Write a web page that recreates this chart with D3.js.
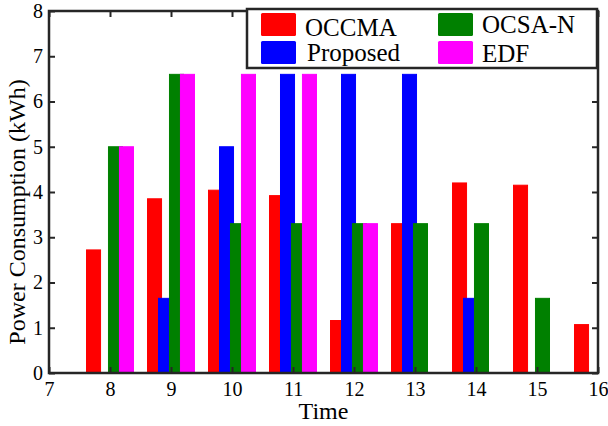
<!DOCTYPE html>
<html>
<head>
<meta charset="utf-8">
<script src="https://cdn.jsdelivr.net/npm/d3@7"></script>
<style>
  body { margin: 0; background: #fff; }
  text { font-family: "Liberation Serif", "Times New Roman", serif; fill: #000; }
</style>
</head>
<body>
<div id="chart"></div>
<script>
// time slots on the x-axis
var times = [7, 8, 9, 10, 11, 12, 13, 14, 15, 16]

// power consumption (kWh) per time slot
var occma    = [0, 2.72, 3.85, 4.04, 3.92, 1.16, 3.3, 4.2, 4.15, 1.07]
var proposed = [0, 0, 1.65, 5, 6.6, 6.6, 6.6, 1.65, 0, 0]
var ocsaN    = [0, 5, 6.6, 3.3, 3.3, 3.3, 3.3, 3.3, 1.65, 0]
var edf      = [0, 5, 6.6, 6.6, 6.6, 3.3, 0, 0, 0, 0]

var seriesNames = ["OCCMA", "Proposed", "OCSA-N", "EDF"]
var seriesColors = ["#ff0000", "#0000ff", "#008000", "#ff00ff"]
var seriesValues = [occma, proposed, ocsaN, edf]

var xTicks = [7, 8, 9, 10, 11, 12, 13, 14, 15, 16]
var yTicks = [0, 1, 2, 3, 4, 5, 6, 7, 8]

var dimensions = {
    width: 608,
    height: 426,
    margin: { top: 11, right: 10, bottom: 53, left: 49 }
}
var innerW = dimensions.width - dimensions.margin.left - dimensions.margin.right
var innerH = dimensions.height - dimensions.margin.top - dimensions.margin.bottom

var svg = d3.select("#chart")
    .append("svg")
    .attr("width", dimensions.width)
    .attr("height", dimensions.height)

var g = svg.append("g")
    .attr("transform", "translate(" + dimensions.margin.left + "," + dimensions.margin.top + ")")

var x = d3.scaleLinear().domain([7, 16]).range([0, innerW])
var y = d3.scaleLinear().domain([0, 8]).range([innerH, 0])

// offsets of the 4 bars inside a group (in time units), and bar width
var offsets = [-0.27, -0.09, 0.09, 0.27]
var barW = 0.23

g.append("clipPath").attr("id", "plotclip")
    .append("rect").attr("width", innerW).attr("height", innerH + 1)

var bars = g.append("g").attr("clip-path", "url(#plotclip)")

seriesValues.forEach(function (vals, s) {
    bars.selectAll(".s" + s)
        .data(vals.map(function (v, i) { return { t: times[i], v: v } }))
        .enter()
        .append("rect")
        .attr("class", "s" + s)
        .attr("x", function (d) { return x(d.t + offsets[s] - barW / 2) })
        .attr("width", function (d) { return x(d.t + barW) - x(d.t) })
        .attr("y", function (d) { return y(d.v) })
        .attr("height", function (d) { return y(0) - y(d.v) })
        .style("fill", seriesColors[s])
        .style("stroke", seriesColors[s])
        .style("stroke-width", 1)
})

var axisColor = "#262626"

var axBottom = g.append("g")
    .attr("transform", "translate(0," + innerH + ")")
    .call(d3.axisBottom(x).tickValues(xTicks).tickSizeInner(-6).tickSizeOuter(0).tickPadding(9))
var axLeft = g.append("g")
    .call(d3.axisLeft(y).tickValues(yTicks).tickSizeInner(-6).tickSizeOuter(0).tickPadding(6))
var axTop = g.append("g")
    .call(d3.axisTop(x).tickValues(xTicks).tickSizeInner(-6).tickSizeOuter(0).tickFormat(""))
var axRight = g.append("g")
    .attr("transform", "translate(" + innerW + ",0)")
    .call(d3.axisRight(y).tickValues(yTicks).tickSizeInner(-6).tickSizeOuter(0).tickFormat(""))

;[axBottom, axLeft, axTop, axRight].forEach(function (a) {
    a.select(".domain").remove()
    a.selectAll("line").attr("stroke", axisColor).attr("stroke-width", 2)
    a.selectAll("text")
        .style("font-family", "'Liberation Serif', 'Times New Roman', serif")
        .style("font-size", "20px")
        .attr("fill", "#1a1a1a")
})
axBottom.selectAll("text").attr("dy", "0.71em")

g.append("rect")
    .attr("width", innerW)
    .attr("height", innerH)
    .attr("fill", "none")
    .attr("stroke", axisColor)
    .attr("stroke-width", 2.5)

// axis titles
svg.append("text")
    .attr("x", dimensions.margin.left + innerW / 2)
    .attr("y", 419)
    .attr("text-anchor", "middle")
    .style("font-size", "24px")
    .text("Time")

svg.append("text")
    .attr("transform", "translate(25,212) rotate(-90)")
    .attr("text-anchor", "middle")
    .style("font-size", "24px")
    .text("Power Consumption (kWh)")

// legend
var legend = svg.append("g")
legend.append("rect")
    .attr("x", 247).attr("y", 9)
    .attr("width", 350).attr("height", 59)
    .attr("fill", "#fff")
    .attr("stroke", axisColor)
    .attr("stroke-width", 2.5)

var legendPos = [
    { sx: 261, sy: 13, tx: 305, ty: 36 },
    { sx: 261, sy: 41, tx: 307, ty: 61 },
    { sx: 438, sy: 13, tx: 482, ty: 33 },
    { sx: 438, sy: 41, tx: 482, ty: 62 }
]
seriesNames.forEach(function (name, s) {
    var p = legendPos[s]
    legend.append("rect")
        .attr("x", p.sx).attr("y", p.sy)
        .attr("width", 35).attr("height", 23)
        .attr("rx", 1.5)
        .attr("fill", seriesColors[s])
    legend.append("text")
        .attr("x", p.tx).attr("y", p.ty)
        .style("font-size", "25px")
        .text(name)
})
</script>
</body>
</html>
